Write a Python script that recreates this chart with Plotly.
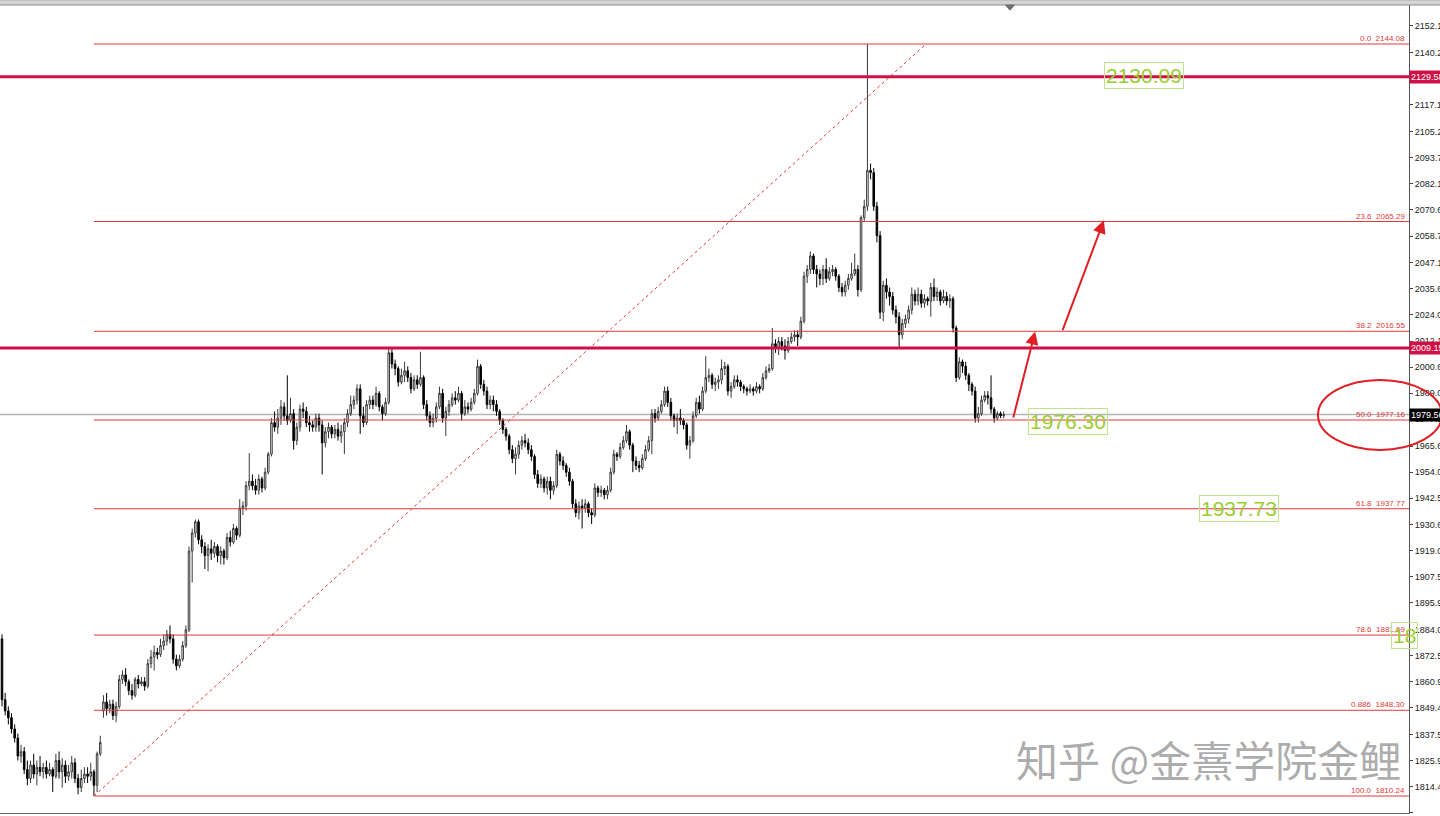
import plotly.graph_objects as go

# ---------------- DATA ----------------
opens = [1880,1853,1848,1845,1840,1836,1828,1830,1822,1818,1824,1820,1823,1821,1823,1820,1822,1819,1826,1821,
         1824,1819,1821,1825,1818,1814,1818,1820,1819,1821,1815,1829,
         1848,1852,1849,1851,1846,1850,1862,1864,1861,1857,1855,1862,1860,1861,1859,1869,1872,1874,
         1873,1877,1879,1882,1880,1871,1868,1871,1877,1884,
         1919,1927,1932,1924,1921,1917,1920,1918,1921,1917,1919,1916,1925,1923,1929,1926,1938,1939,1948,1950,
         1948,1946,1951,1947,1954,1962,1976,1974,1978,1983,1979,1977,1980,1968,1974,1982,1981,1976,1975,1974,
         1978,1975,1967,1972,1974,1971,1973,1970,1972,1976,1980,1984,1986,1991,1979,1976,1984,1986,1984,1989,
         1983,1980,1985,2007,2002,2000,1994,1997,1999,1996,1991,1995,1993,1996,1984,1979,1976,1978,1983,1989,
         1978,1981,1984,1987,1986,1989,1980,1983,1982,1985,1989,2001,1993,1990,1984,1986,1984,1981,1977,1973,
         1970,1964,1960,1962,1966,1968,1967,1964,1961,1953,1949,1951,1947,1950,1946,1948,1962,1959,1957,1954,
         1950,1940,1936,1939,1938,1940,1936,1935,1947,1945,1946,1944,1946,1954,1962,1961,1965,1968,1972,1966,
         1959,1957,1956,1960,1964,1968,1980,1978,1981,1984,1990,1985,1979,1977,1978,1977,1975,1966,1968,1979,
         1985,1982,1990,1996,1997,1993,1994,1995,2000,2001,1990,1992,1995,1994,1992,1991,1990,1991,1990,1992,
         1991,1996,1999,2000,2011,2009,2012,2010,2008,2012,2014,2015,2014,2021,2041,2044,2050,2044,2042,2040,
         2044,2040,2043,2044,2041,2036,2034,2037,2040,2042,2044,2035,2067,2072,2088,2087,2072,2059,2025,2037,
         2034,2032,2026,2023,2015,2020,2022,2026,2033,2030,2033,2029,2031,2030,2036,2032,2034,2030,2032,2030,
         2031,2018,1996,2003,2001,1997,1993,1990,1978,1980,1986,1988,1987,1982,1978,1980,1979]
highs = [1882,1856,1850,1847,1842,1838,1833,1832,1826,1826,1829,1826,1828,1825,1826,1825,1823,1829,1830,1827,
         1826,1824,1828,1827,1820,1822,1823,1823,1825,1822,1830,1837,
         1855,1856,1853,1853,1852,1864,1866,1867,1862,1860,1863,1864,1863,1863,1871,1875,1877,1876,
         1880,1882,1884,1886,1882,1873,1873,1879,1886,1921,
         1929,1933,1933,1926,1923,1922,1924,1923,1922,1921,1920,1927,1928,1931,1930,1942,1941,1950,1962.5,1953,
         1951,1953,1952,1956,1963,1978,1981,1982,1986,1985,1997,1987,1982,1976,1984,1985,1983,1979,1977,1980,
         1980,1977,1974,1976,1975,1975,1976,1975,1978,1982,1988,1988,1993,1993,1983,1986,1988,1988,1992,1990,
         1984,1987,2009.5,2009,2004,2001,2000,2003,2001,1998,1997,1997,2007.5,1997,1986,1981,1980,1985,1992,1991,
         1983,1986,1989,1990,1992,1990,1986,1985,1987,1991,2004,2002,1995,1992,1988,1988,1986,1982,1978,1974,
         1971,1966,1965,1968,1970,1971,1969,1966,1962,1955,1953,1952,1952,1952,1950,1964,1963,1961,1958,1956,
         1951,1942,1941,1942,1942,1941,1938,1949,1948,1948,1947,1948,1956,1964,1963,1967,1970,1975,1973,1967,
         1961,1959,1962,1966,1970,1982,1982,1983,1986,1992,1992,1987,1980,1980,1982,1978,1976,1970,1981,1987,
         1988,1992,2005.5,2000,1998,1996,1997,2004,2003,2002,1994,1997,1997,1995,1993,1992,1993,1992,1994,1993,
         1998,2001,2002,2018,2013,2014,2014,2013,2014,2016,2017,2017,2023,2043,2046,2052,2051,2046,2044,2046,
         2049,2045,2046,2045,2042,2038,2039,2042,2047,2051,2046,2068,2075,2144.08,2091,2089,2074,2061,2039,2040,
         2036,2034,2028,2025,2022,2024,2028,2036,2035,2036,2035,2033,2032,2038,2040,2036,2035,2035,2034,2033,
         2032,2019,2005,2004,2003,1998,1994,1992,1983,1988,1990,1990,1997,1983,1981,1981,1981]
lows = [1850,1846,1842,1838,1834,1826,1825,1820,1815,1816,1818,1815,1819,1818,1818,1819,1812,1818,1818,1814,
        1816,1817,1818,1816,1811,1812,1816,1816,1817,1810.24,1812,1828,
        1845,1846,1847,1844,1843,1849,1860,1859,1855,1853,1854,1858,1859,1857,1858,1867,1866,1871,
        1872,1875,1877,1878,1869,1866,1867,1870,1876,1883,
        1905,1925,1922,1918,1911,1910,1915,1916,1914,1913,1913,1915,1921,1922,1924,1925,1935,1937,1946,1946,
        1944,1944,1945,1946,1953,1961,1972,1971,1975,1977,1975,1976,1964,1966,1972,1978,1974,1972,1972,1972,
        1972,1953,1965,1969,1969,1969,1968,1967,1962,1974,1979,1982,1984,1971,1974,1975,1982,1982,1983,1981,
        1977,1979,1984,2000,1997,1992,1993,1994,1994,1989,1990,1991,1992,1982,1977,1974,1974,1976,1982,1976,
        1970,1979,1983,1984,1985,1977,1979,1980,1981,1984,1988,1991,1988,1982,1982,1981,1979,1975,1971,1968,
        1962,1958,1953,1960,1964,1965,1962,1959,1951,1947,1947,1945,1944,1942,1944,1947,1957,1955,1952,1948,
        1938,1934,1933,1929,1936,1934,1931,1934,1943,1943,1942,1942,1945,1953,1959,1960,1964,1967,1964,1954,
        1955,1954,1955,1959,1963,1962,1976,1977,1980,1983,1983,1977,1974,1971,1975,1973,1964,1960,1967,1978,
        1980,1981,1989,1994,1991,1990,1991,1993,1997,1988,1987,1991,1992,1990,1989,1988,1989,1988,1989,1989,
        1990,1995,1998,1999,2007,2006,2008,2004,2007,2011,2012,2010,2013,2020,2038,2042,2042,2036,2037,2037,
        2038,2039,2041,2039,2034,2032,2032,2035,2039,2041,2032,2034,2065,2070,2084,2070,2056,2022,2021,2031,
        2028,2024,2020,2009.3,2013,2018,2020,2024,2028,2028,2027,2027,2028,2023,2030,2030,2028,2029,2028,2027,
        2016,1994,1995,1998,1995,1990,1988,1976,1976,1979,1985,1984,1980,1976,1977,1978,1978]
closes = [1853,1848,1845,1840,1836,1828,1830,1822,1818,1824,1820,1823,1821,1823,1820,1822,1819,1826,1821,1824,
          1819,1821,1825,1818,1814,1818,1820,1819,1821,1815,1829,1834,
          1852,1849,1851,1846,1850,1862,1864,1861,1857,1855,1862,1860,1861,1859,1869,1872,1874,1873,
          1877,1879,1882,1880,1871,1868,1871,1877,1884,1919,
          1927,1932,1924,1921,1917,1920,1918,1921,1917,1919,1916,1925,1923,1929,1926,1938,1939,1948,1950,1948,
          1946,1951,1947,1954,1962,1976,1974,1978,1983,1979,1977,1980,1968,1974,1982,1981,1976,1975,1974,1978,
          1975,1967,1972,1974,1971,1973,1970,1972,1976,1980,1984,1986,1991,1979,1976,1984,1986,1984,1989,1983,
          1980,1985,2007,2002,2000,1994,1997,1999,1996,1991,1995,1993,1996,1984,1979,1976,1978,1983,1989,1978,
          1981,1984,1987,1986,1989,1980,1983,1982,1985,1989,2001,1993,1990,1984,1986,1984,1981,1977,1973,1970,
          1964,1960,1962,1966,1968,1967,1964,1961,1953,1949,1951,1947,1950,1946,1948,1962,1959,1957,1954,1950,
          1940,1936,1939,1938,1940,1936,1935,1947,1945,1946,1944,1946,1954,1962,1961,1965,1968,1972,1966,1959,
          1957,1956,1960,1964,1968,1980,1978,1981,1984,1990,1985,1979,1977,1978,1977,1975,1966,1968,1979,1985,
          1982,1990,1996,1997,1993,1994,1995,2000,2001,1990,1992,1995,1994,1992,1991,1990,1991,1990,1992,1991,
          1996,1999,2000,2011,2009,2012,2010,2008,2012,2014,2015,2014,2021,2041,2044,2050,2044,2042,2040,2044,
          2040,2043,2044,2041,2036,2034,2037,2040,2042,2044,2035,2067,2072,2088,2087,2072,2059,2025,2037,2034,
          2032,2026,2023,2015,2020,2022,2026,2033,2030,2033,2029,2031,2030,2036,2032,2034,2030,2032,2030,2031,
          2018,1996,2003,2001,1997,1993,1990,1978,1980,1986,1988,1987,1982,1978,1980,1979,1979.56]

fib_ratios = ["0.0", "23.6", "38.2", "50.0", "61.8", "78.6", "0.886", "100.0"]
fib_prices = [2144.08, 2065.29, 2016.55, 1977.16, 1937.77, 1881.69, 1848.30, 1810.24]
level_prices = [2129.58, 2009.15]
last_price = 1979.56
green_texts = ["2130.09", "1976.30", "1937.73", "18"]
green_prices = [2130.09, 1976.30, 1937.73, 1881.69]
ytick_vals = [2152.15, 2140.25, 2128.70, 2117.15, 2105.25, 2093.70, 2082.15, 2070.60, 2058.70, 2047.15,
              2035.60, 2024.05, 2012.15, 2000.60, 1989.05, 1977.50, 1965.60, 1954.05, 1942.50, 1930.60,
              1919.05, 1907.50, 1895.95, 1884.05, 1872.50, 1860.95, 1849.40, 1837.50, 1825.95, 1814.40,
              1802.85]
watermark = "知乎 @金熹学院金鲤"

# ---------------- LAYOUT CONSTANTS ----------------
idx = list(range(len(closes)))
X0, X1 = -0.63, 443.85
Y0, Y1 = 1802.7, 2161.4
low_idx = lows.index(min(lows))
fib_end_idx = 291.5
green_x = [360.3, 336.3, 390.2, 438.2]
green_anchor = ["center", "center", "center", "left"]

RED = "#e01e24"
FIBC = "#e2383a"
CRIMSON = "#cf0f45"

fig = go.Figure()

# fib levels as line traces (beneath candles)
fx, fy = [], []
for p in fib_prices:
    fx += [low_idx, X1, None]
    fy += [p, p, None]
fig.add_trace(go.Scatter(x=fx, y=fy, mode="lines", line=dict(color=FIBC, width=1),
                         hoverinfo="skip", showlegend=False, cliponaxis=True))
# fib diagonal
fig.add_trace(go.Scatter(x=[low_idx, fib_end_idx], y=[fib_prices[-1], fib_prices[0]], mode="lines",
                         line=dict(color=FIBC, width=1, dash="3px,3px"),
                         hoverinfo="skip", showlegend=False))

fig.add_trace(go.Candlestick(
    x=idx, open=opens, high=highs, low=lows, close=closes,
    increasing=dict(line=dict(color="#3a3a3a", width=1), fillcolor="#ffffff"),
    decreasing=dict(line=dict(color="#000000", width=1), fillcolor="#000000"),
    whiskerwidth=0, showlegend=False, hoverinfo="skip"))

shapes = []
shapes.append(dict(type="line", xref="paper", yref="y", x0=0, x1=1, y0=last_price, y1=last_price,
                   line=dict(color="#b4b4b4", width=1.5), layer="below"))
for p in level_prices:
    shapes.append(dict(type="line", xref="paper", yref="y", x0=0, x1=1, y0=p, y1=p,
                       line=dict(color=CRIMSON, width=3), layer="above"))
shapes.append(dict(type="circle", xref="paper", yref="paper", x0=0.9354, x1=1.0234, y0=0.4493, y1=0.5359,
                   line=dict(color=RED, width=2)))
shapes.append(dict(type="rect", xref="paper", yref="paper", x0=-0.01, x1=1.03, y0=1.0, y1=1.0065,
                   line=dict(color="#8c8c8c", width=1), fillcolor="#d4d4d4"))
shapes.append(dict(type="path", xref="paper", yref="paper",
                   path="M 0.7136 1.0 L 0.7200 1.0 L 0.7168 0.9935 Z",
                   fillcolor="#707070", line=dict(color="#707070", width=1)))

annotations = []
for r, p in zip(fib_ratios, fib_prices):
    annotations.append(dict(xref="paper", yref="y", x=0.998, y=p, xanchor="right", yanchor="bottom",
                            text=f"{r}&nbsp;&nbsp;{p:.2f}", showarrow=False,
                            font=dict(family="Liberation Sans", size=8, color=FIBC), borderpad=0))
for t, p, gx, ga in zip(green_texts, green_prices, green_x, green_anchor):
    annotations.append(dict(xref="x", yref="y", x=gx, y=p, xanchor=ga, yanchor="middle",
                            text=t, showarrow=False,
                            font=dict(family="Liberation Sans", size=21, color="#9acd32"),
                            bordercolor="#bde38f", borderwidth=1, borderpad=1))
for p in level_prices:
    annotations.append(dict(xref="paper", yref="y", x=1.0, y=p, xanchor="left", yanchor="middle",
                            text=f"{p:.2f}", showarrow=False, bgcolor=CRIMSON,
                            font=dict(family="Liberation Sans", size=9, color="#ffffff"), borderpad=1))
annotations.append(dict(xref="paper", yref="y", x=1.0, y=last_price, xanchor="left", yanchor="middle",
                        text=f"{last_price:.2f}", showarrow=False, bgcolor="#000000",
                        font=dict(family="Liberation Sans", size=9, color="#ffffff"), borderpad=1))
annotations.append(dict(xref="x", yref="y", axref="x", ayref="y", x=325.9, y=2016.4, ax=318.9, ay=1977.6,
                        text="", showarrow=True, arrowhead=2, arrowsize=1.3, arrowwidth=2, arrowcolor=RED))
annotations.append(dict(xref="x", yref="y", axref="x", ayref="y", x=347.6, y=2065.8, ax=334.4, ay=2016.4,
                        text="", showarrow=True, arrowhead=2, arrowsize=1.3, arrowwidth=2, arrowcolor=RED))
annotations.append(dict(xref="paper", yref="paper", x=0.858, y=0.068, xanchor="center", yanchor="middle",
                        text=watermark, showarrow=False,
                        font=dict(family="Noto Sans CJK SC", size=42, color="rgba(125,125,125,0.65)")))

fig.update_layout(
    width=1440, height=816,
    margin=dict(l=0, r=31, t=5, b=3),
    paper_bgcolor="#ffffff", plot_bgcolor="#ffffff",
    showlegend=False, shapes=shapes, annotations=annotations,
    xaxis=dict(range=[X0, X1], showticklabels=False, ticks="", showgrid=False, zeroline=False,
               showline=True, linecolor="#666666", mirror=True, rangeslider=dict(visible=False),
               fixedrange=True, automargin=False),
    yaxis=dict(range=[Y0, Y1], side="right", tickvals=ytick_vals,
               ticktext=[f"{v:.2f}" for v in ytick_vals], ticks="outside", ticklen=3,
               tickcolor="#444444", tickfont=dict(family="Liberation Sans", size=9, color="#222222"),
               showgrid=False, zeroline=False, showline=True, linecolor="#555555", mirror=True,
               fixedrange=True, automargin=False),
)

fig.write_html("out.html", config={"displayModeBar": False},
               post_script="document.body.style.margin='0';document.body.style.overflow='hidden';")
